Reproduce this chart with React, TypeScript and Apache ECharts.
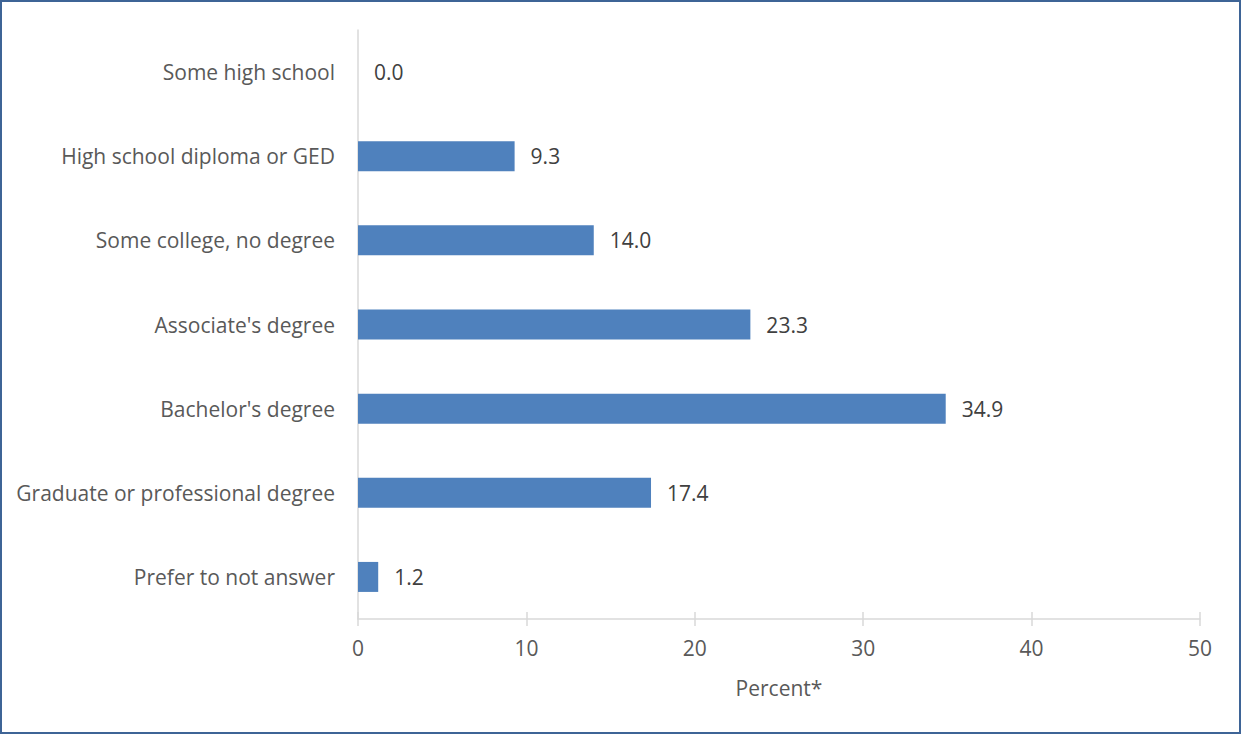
import React, { useEffect, useRef } from "react";
import * as echarts from "echarts";

const categories = [
  "Some high school",
  "High school diploma or GED",
  "Some college, no degree",
  "Associate's degree",
  "Bachelor's degree",
  "Graduate or professional degree",
  "Prefer to not answer",
];
const values = [0.0, 9.3, 14.0, 23.3, 34.9, 17.4, 1.2];
const axisName = "Percent*";

export default function App() {
  const ref = useRef<HTMLDivElement>(null);
  useEffect(() => {
    document.body.style.margin = "0";
    const chart = echarts.init(ref.current!, null, { renderer: "svg" });
    const font = "'Open Sans', 'Noto Sans', sans-serif";
    const fs = 21;
    chart.setOption({
      animation: false,
      textStyle: { fontFamily: font },
      grid: { left: 358, right: 41, top: 30, bottom: 115, containLabel: false },
      xAxis: [
        {
          type: "value",
          min: 0,
          max: 50,
          interval: 10,
          position: "bottom",
          splitLine: { show: false },
          axisLine: { show: true, lineStyle: { color: "#d9d9d9", width: 1.5 } },
          axisTick: { show: true, length: 7, lineStyle: { color: "#d9d9d9", width: 1.5 } },
          axisLabel: { color: "#595959", fontSize: fs, margin: 18, fontFamily: font },
          name: axisName,
          nameLocation: "middle",
          nameGap: 58,
          nameTextStyle: { color: "#595959", fontSize: fs, fontFamily: font },
        },
        {
          type: "value",
          min: 0,
          max: 50,
          interval: 10,
          position: "bottom",
          splitLine: { show: false },
          axisLine: { show: false },
          axisTick: { show: true, inside: true, length: 7, lineStyle: { color: "#d9d9d9", width: 1.5 } },
          axisLabel: { show: false },
        },
      ],
      yAxis: {
        type: "category",
        data: categories,
        inverse: true,
        axisLine: { show: true, lineStyle: { color: "#d9d9d9", width: 1.5 } },
        axisTick: { show: false },
        axisLabel: { color: "#595959", fontSize: fs, margin: 23, fontFamily: font },
      },
      series: [
        {
          type: "bar",
          data: values,
          xAxisIndex: 0,
          barWidth: 30,
          itemStyle: { color: "#4f81bd" },
          label: {
            show: true,
            position: "right",
            distance: 16,
            color: "#404040",
            fontSize: fs,
            fontFamily: font,
            formatter: (p: any) => Number(p.value).toFixed(1),
          },
        },
      ],
    });
    return () => chart.dispose();
  }, []);
  return (
    <div
      style={{
        position: "absolute",
        left: 0,
        top: 0,
        width: 1241,
        height: 734,
        boxSizing: "border-box",
        border: "2px solid #3e6496",
        background: "#fff",
      }}
    >
      <div ref={ref} style={{ position: "absolute", left: -2, top: -2, width: 1241, height: 734 }} />
    </div>
  );
}
